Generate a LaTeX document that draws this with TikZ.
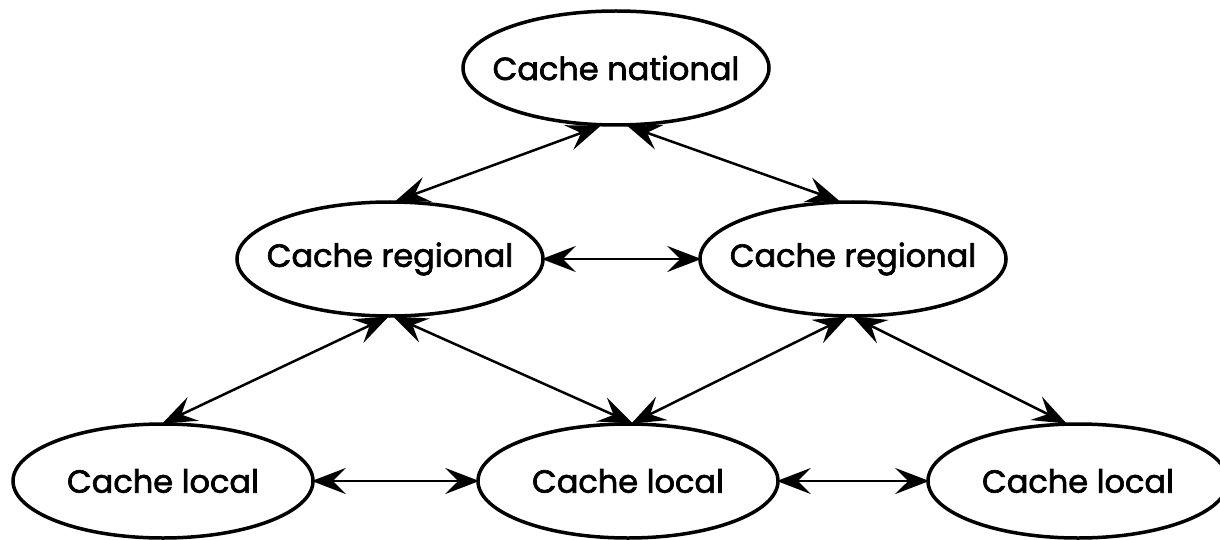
\documentclass[tikz,border=0pt]{standalone}
\usepackage{fontspec}
\setmainfont{Poppins}[FakeBold=2]
\usetikzlibrary{arrows.meta,shapes.geometric}
\tikzset{bigtip/.tip={Stealth[length=34pt,width=26pt,inset=13pt]}}
\begin{document}
\begin{tikzpicture}[x=1pt,y=-1pt,
  cache/.style={draw,line width=3.5pt,ellipse,minimum width=#1,minimum height=114pt,inner xsep=-40pt,inner ysep=0pt,font=\fontsize{32}{36}\selectfont},
  cache/.default=306pt,
  link/.style={line width=2.5pt,bigtip-bigtip,shorten <=-3pt,shorten >=-3pt}]
\useasboundingbox (0,0) rectangle (1220,540);
\node[cache] (nat) at (616,68) {Cache national};
\node[cache] (regL) at (390,259) {Cache regional};
\node[cache] (regR) at (853,259) {Cache regional};
\node[cache=300pt] (locL) at (163,481) {Cache local};
\node[cache=300pt] (locM) at (628,481) {Cache local};
\node[cache=300pt] (locR) at (1078,481) {Cache local};
\draw[link] ([xshift=-18pt]nat.south) -- ([xshift=8pt]regL.north);
\draw[link] ([xshift=14pt]nat.south) -- ([xshift=-16pt]regR.north);
\draw[link] (regL.east) -- (regR.west);
\draw[link] ([xshift=-4pt]regL.south) -- ([xshift=2pt]locL.north);
\draw[link] ([xshift=6pt]regL.south) -- ([xshift=2pt]locM.north);
\draw[link] ([xshift=-8pt]regR.south) -- ([xshift=6pt]locM.north);
\draw[link] ([xshift=2pt]regR.south) -- ([xshift=-14pt]locR.north);
\draw[link] (locL.east) -- (locM.west);
\draw[link] (locM.east) -- (locR.west);
\end{tikzpicture}
\end{document}
